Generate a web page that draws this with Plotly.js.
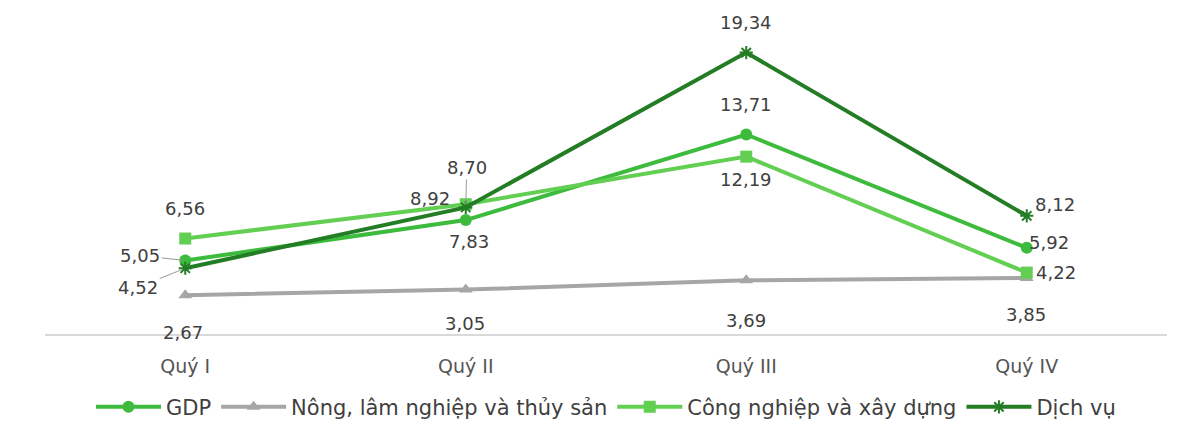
<!DOCTYPE html>
<html>
<head>
<meta charset="utf-8">
<script src="https://cdn.plot.ly/plotly-3.0.1.min.js"></script>
<style>html,body{margin:0;padding:0;background:#fff;}#chart{width:1198px;height:430px;}</style>
</head>
<body>
<div id="chart"></div>
<script>
const categories = ["Quý I", "Quý II", "Quý III", "Quý IV"];
const seriesNames = ["GDP", "Nông, lâm nghiệp và thủy sản", "Công nghiệp và xây dựng", "Dịch vụ"];
const gdp = [5.05, 7.83, 13.71, 5.92];
const nong = [2.67, 3.05, 3.69, 3.85];
const congNghiep = [6.56, 8.92, 12.19, 4.22];
const dichVu = [4.52, 8.70, 19.34, 8.12];

const colors = ["#3dbb3d", "#a6a6a6", "#62cf52", "#237d25"];
const symbols = ["circle", "triangle-up", "square", "asterisk-open"];
const sizes = [12, 12, 12, 11];
const allValues = [gdp, nong, congNghiep, dichVu];

// label offsets (px) per series per category: [dx, dy(down positive), leader]
const labelOffsets = [
  [[-45, -5, true], [3, 21, false], [0, -30, false], [22, -5, false]],
  [[-2, 37, false], [-1, 34, false], [0, 40, false], [-1, 37, false]],
  [[0, -30, false], [-36, -6, false], [0, 23, false], [29, 0, false]],
  [[-47, 19, true], [1, -40, true], [0, -30, false], [28, -11, false]]
];

const FONT = 'DejaVu Sans';
const fmt = v => v.toFixed(2).replace('.', ',');

const traces = allValues.map((vals, i) => ({
  type: 'scatter',
  mode: 'lines+markers',
  name: seriesNames[i],
  x: categories,
  y: vals,
  line: {color: colors[i], width: 4},
  marker: {symbol: symbols[i], size: sizes[i], color: colors[i], line: {color: colors[i], width: i === 3 ? 2 : 0}},
  hoverinfo: 'skip'
}));

const annotations = [];
allValues.forEach((vals, i) => {
  vals.forEach((v, j) => {
    const [dx, dy, leader] = labelOffsets[i][j];
    if (leader) {
      annotations.push({
        x: categories[j], y: v, xref: 'x', yref: 'y',
        text: fmt(v), showarrow: true, ax: dx, ay: dy,
        arrowhead: 0, arrowwidth: 1, arrowcolor: '#9a9a9a', standoff: 3,
        font: {family: FONT, size: 18, color: '#404040'}
      });
    } else {
      annotations.push({
        x: categories[j], y: v, xref: 'x', yref: 'y',
        text: fmt(v), showarrow: false, xshift: dx, yshift: -dy,
        font: {family: FONT, size: 18, color: '#404040'}
      });
    }
  });
});

const layout = {
  width: 1198, height: 430,
  margin: {l: 45, r: 31, t: 43, b: 96},
  paper_bgcolor: '#ffffff', plot_bgcolor: '#ffffff',
  font: {family: FONT, size: 18, color: '#404040'},
  showlegend: true,
  legend: {
    orientation: 'h', x: 0.5, xanchor: 'center', yref: 'container', y: 0.053, yanchor: 'middle',
    font: {family: FONT, size: 21, color: '#404040'}, itemwidth: 65, tracegroupgap: 0
  },
  xaxis: {
    type: 'category', range: [-0.5, 3.5], showgrid: false, zeroline: false,
    showline: true, linecolor: '#d9d9d9', linewidth: 2,
    ticks: '', ticklabelstandoff: 14,
    tickfont: {family: FONT, size: 19, color: '#555555'}
  },
  yaxis: {range: [0, 20], showgrid: false, zeroline: false, showline: false, showticklabels: false},
  annotations: annotations
};

Plotly.newPlot('chart', traces, layout, {displayModeBar: false, staticPlot: true});
</script>
</body>
</html>
